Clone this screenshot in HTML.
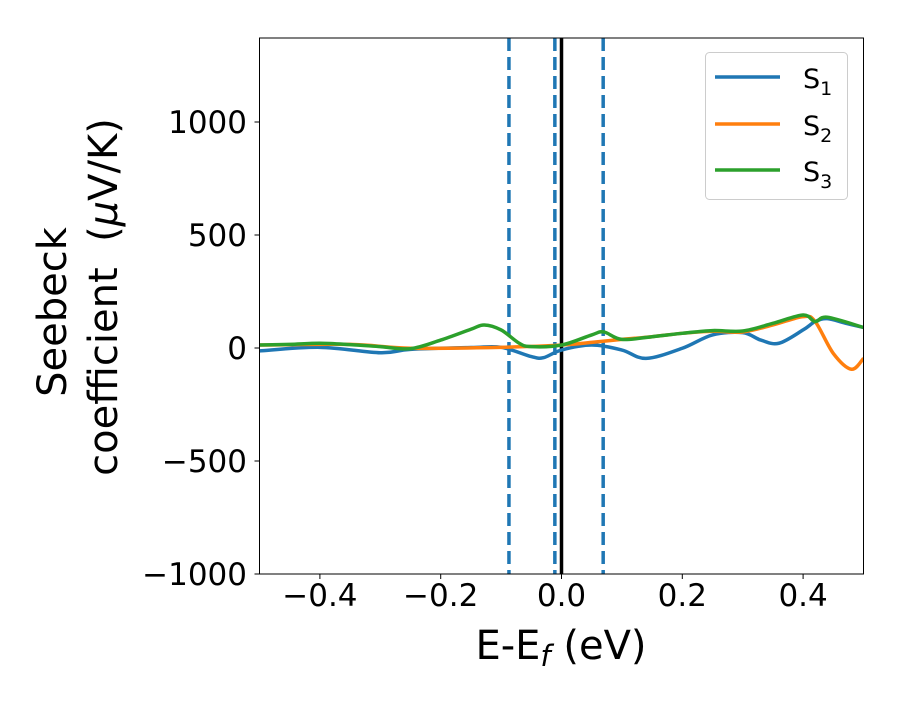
<!DOCTYPE html>
<html><head><meta charset="utf-8"><style>
body{margin:0;background:#fff;}
svg text{font-family:"DejaVu Sans","Liberation Sans",sans-serif;fill:#000;}
</style></head><body>
<svg id="chart" width="900" height="700" viewBox="0 0 900 700" xmlns="http://www.w3.org/2000/svg">
<g id="plot"></g>
<rect x="259.5" y="38" width="604" height="536" fill="none" stroke="#000" stroke-width="1"/>
<g id="xt"></g><g id="yt"></g>
<text x="561" y="659" font-size="40" text-anchor="middle">E-E<tspan font-style="italic" font-size="29" dy="7">f</tspan><tspan dy="-7"> (eV)</tspan></text>
<g>
<text transform="translate(66,312) rotate(-90)" font-size="40" text-anchor="middle">Seebeck</text>
<text transform="translate(117,297) rotate(-90)" font-size="40" text-anchor="middle" xml:space="preserve">coefficient  (<tspan font-style="italic">μ</tspan>V/K)</text>
</g>
<g>
<rect x="705.5" y="52.5" width="142" height="147" rx="4" fill="#fff" stroke="#ccc"/>
<g><line x1="715" y1="77" x2="780" y2="77" stroke="#1f77b4" stroke-width="3.5"/><text x="803" y="88" font-size="27">S<tspan font-size="19" dy="7">1</tspan></text></g>
<g><line x1="715" y1="124" x2="780" y2="124" stroke="#ff7f0e" stroke-width="3.5"/><text x="803" y="135" font-size="27">S<tspan font-size="19" dy="7">2</tspan></text></g>
<g><line x1="715" y1="170" x2="780" y2="170" stroke="#2ca02c" stroke-width="3.5"/><text x="803" y="181" font-size="27">S<tspan font-size="19" dy="7">3</tspan></text></g>
</g>
</svg>
<script>
const xTicks=[-0.4,-0.2,0.0,0.2,0.4];
const xTickLabels=["\u22120.4","\u22120.2","0.0","0.2","0.4"];
const yTicks=[-1000,-500,0,500,1000];
const yTickLabels=["\u22121000","\u2212500","0","500","1000"];
const s1X=[-0.5,-0.4,-0.3,-0.25,-0.15,-0.1,-0.05,-0.03,0,0.05,0.1,0.14,0.2,0.25,0.3,0.33,0.36,0.4,0.42,0.44,0.47,0.5];
const s1Y=[-13,3,-21,-6,2,3,-38,-43,-9,13,-9,-46,-1,58,68,35,21,80,117,130,110,91];
const s2X=[-0.5,-0.35,-0.25,-0.1,0,0.05,0.1,0.15,0.2,0.25,0.3,0.35,0.4,0.42,0.45,0.48,0.5];
const s2Y=[13,16,-1,3,13,25,38,50,65,74,71,102,139,117,-24,-94,-46];
const s3X=[-0.5,-0.45,-0.4,-0.35,-0.3,-0.25,-0.2,-0.15,-0.128,-0.1,-0.07,-0.05,0,0.05,0.07,0.1,0.15,0.2,0.25,0.3,0.35,0.4,0.42,0.44,0.5];
const s3Y=[13,16,21,15,6,-3,35,83,102,80,21,6,13,58,71,38,50,65,77,75,109,146,117,136,91];
const vDashed=[-0.087,-0.011,0.069];
const vSolid=[0.0];
const xs=v=>259.5+(v+0.5)*604;
const ys=v=>348-v*0.226;
const NS="http://www.w3.org/2000/svg";
const plot=document.getElementById('plot');
function mk(tag,attrs,parent){const e=document.createElementNS(NS,tag);for(const k in attrs)e.setAttribute(k,attrs[k]);parent.appendChild(e);return e;}
function path(X,Y){const p=X.map((x,i)=>[xs(x),ys(Y[i])]);let d=`M${p[0][0]},${p[0][1]}`;
for(let i=0;i<p.length-1;i++){const p0=p[Math.max(i-1,0)],p1=p[i],p2=p[i+1],p3=p[Math.min(i+2,p.length-1)];
d+=` C${p1[0]+(p2[0]-p0[0])/6},${p1[1]+(p2[1]-p0[1])/6} ${p2[0]-(p3[0]-p1[0])/6},${p2[1]-(p3[1]-p1[1])/6} ${p2[0]},${p2[1]}`;}return d;}
const clip=mk('clipPath',{id:'cp'},plot);mk('rect',{x:259.5,y:38,width:604,height:536},clip);
const g=mk('g',{'clip-path':'url(#cp)'},plot);
vDashed.forEach(v=>{const l=mk('line',{x1:xs(v),x2:xs(v),y1:38,y2:574,stroke:'#1f77b4','stroke-width':3.5,'stroke-dasharray':'13,6'},g);

});
vSolid.forEach(v=>{const l=mk('line',{x1:xs(v),x2:xs(v),y1:38,y2:574,stroke:'#000','stroke-width':3.5},g);

});
[[s1X,s1Y,'#1f77b4','series-s1'],[s2X,s2Y,'#ff7f0e','series-s2'],[s3X,s3Y,'#2ca02c','series-s3']].forEach(s=>{
const e=mk('path',{d:path(s[0],s[1]),fill:'none',stroke:s[2],'stroke-width':3.5},g);

});
const xt=document.getElementById('xt');
xTicks.forEach((v,i)=>{mk('line',{x1:xs(v),x2:xs(v),y1:574,y2:579,stroke:'#000'},xt);
const t=mk('text',{x:xs(v),y:606,'font-size':31,'text-anchor':'middle'},xt);t.textContent=xTickLabels[i];

});
const yt=document.getElementById('yt');
yTicks.forEach((v,i)=>{mk('line',{x1:254.5,x2:259.5,y1:ys(v),y2:ys(v),stroke:'#000'},yt);
const t=mk('text',{x:247,y:ys(v)+11,'font-size':31,'text-anchor':'end'},yt);t.textContent=yTickLabels[i];

});
</script>
</body></html>
